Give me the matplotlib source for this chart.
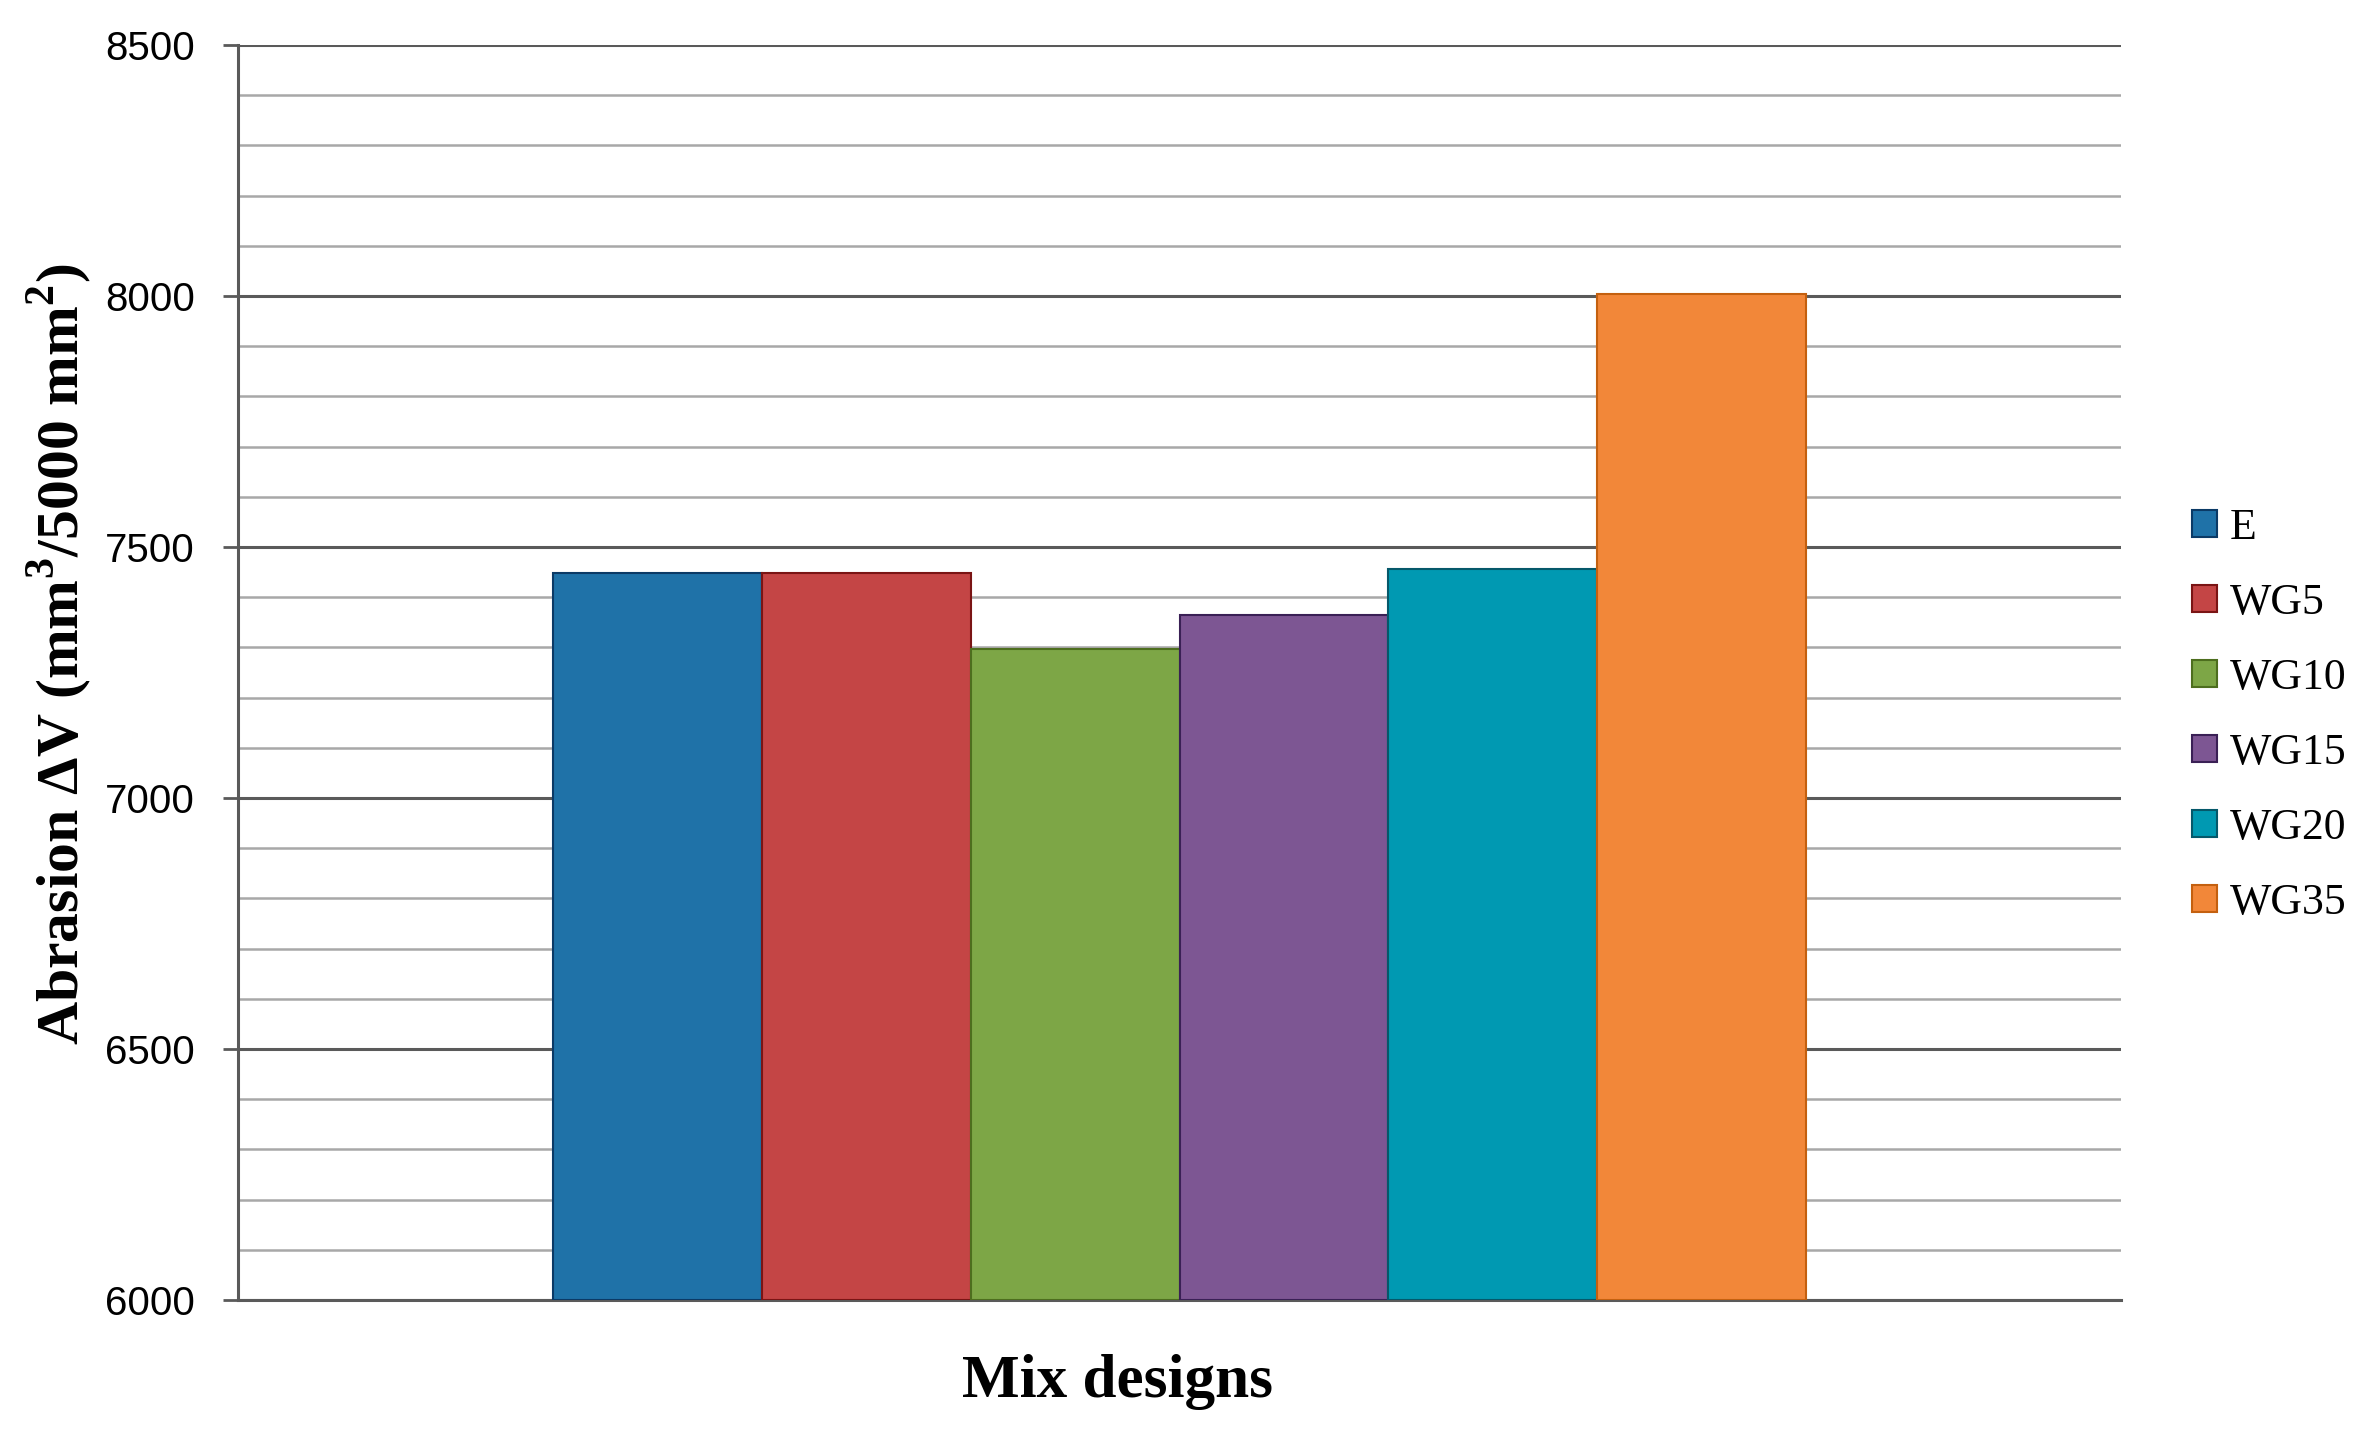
import matplotlib.pyplot as plt
from matplotlib.ticker import MultipleLocator
import numpy as np

# abrasion loss per mix design (single group of bars)
mixes = ["E", "WG5", "WG10", "WG15", "WG20", "WG35"]
abrasion = [7448, 7448, 7297, 7364, 7457, 8005]
colors = ["#1f72a8", "#c44545", "#7da646", "#7d5693", "#0099b2", "#f28739"]
edges = ["#0b3a66", "#7a1414", "#4d6e1e", "#3a2055", "#05586a", "#c4600f"]

serif = ["Liberation Serif", "DejaVu Serif"]
plt.rcParams["mathtext.fontset"] = "custom"
plt.rcParams["mathtext.rm"] = "Liberation Serif:bold"

fig = plt.figure(figsize=(23.76, 14.4), dpi=100)
ax = fig.add_axes([0.1002, 0.0972, 0.7925, 0.8715])

x = np.arange(len(mixes))
for i in range(len(mixes)):
    ax.bar(x[i], abrasion[i] - 6000, bottom=6000, width=1.0, color=colors[i],
           edgecolor=edges[i], linewidth=1.5, label=mixes[i], zorder=3)

half = 4.51
ax.set_xlim(2.5 - half, 2.5 + half)
ax.set_ylim(6000, 8500)

ax.yaxis.set_major_locator(MultipleLocator(500))
ax.yaxis.set_minor_locator(MultipleLocator(100))
ax.grid(which="major", axis="y", color="#5a5a5a", linewidth=2.2, zorder=1)
ax.grid(which="minor", axis="y", color="#a8a8a8", linewidth=1.8, zorder=1)
ax.tick_params(axis="y", which="major", length=11, width=2, color="#5a5a5a",
               pad=20, labelsize=29)
ax.tick_params(axis="y", which="minor", length=0)
ax.tick_params(axis="x", which="both", length=0, labelbottom=False)
for lab in ax.get_yticklabels():
    lab.set_fontfamily(["Liberation Sans", "DejaVu Sans"])

for s in ["top", "right"]:
    ax.spines[s].set_visible(False)
ax.spines["left"].set_color("#5a5a5a")
ax.spines["left"].set_linewidth(2.2)
ax.spines["bottom"].set_color("#5a5a5a")
ax.spines["bottom"].set_linewidth(2.2)

ax.set_xlabel("Mix designs", fontsize=44, fontweight="bold", family=serif, labelpad=39)
ax.xaxis.label.set_x(0.467)
ax.set_ylabel("Abrasion ΔV (mm$^3$/5000 mm$^2$)", fontsize=43, fontweight="bold",
              family=serif, labelpad=8)
ax.yaxis.label.set_y(0.515)

leg = ax.legend(loc="center left", bbox_to_anchor=(1.017, 0.466), frameon=False,
                prop={"family": serif, "size": 31.5}, handlelength=0.56,
                handleheight=0.56, handletextpad=0.3, labelspacing=0.8)

plt.savefig("out.png", dpi=100)
